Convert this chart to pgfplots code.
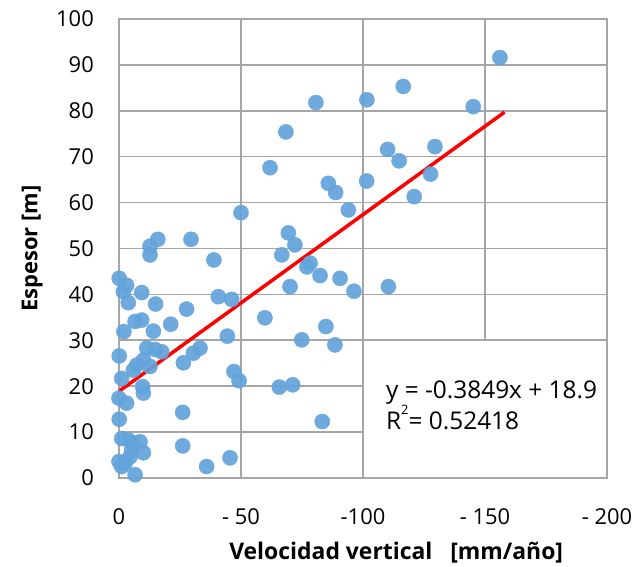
\documentclass[border=0pt]{standalone}
\usepackage{fontspec}
\setmainfont{Open Sans}
\usepackage{pgfplots}
\pgfplotsset{compat=1.18}
\definecolor{gridgray}{RGB}{166,166,166}
\definecolor{ptblue}{RGB}{98,163,219}
\begin{document}
\begin{tikzpicture}
\begin{axis}[
  scale only axis, width=488bp, height=459bp,
  x dir=reverse, xmin=-200, xmax=0, ymin=0, ymax=100,
  xtick={0,-50,-100,-150,-200}, xticklabels={0,- 50,-100,- 150,- 200},
  ytick={0,10,...,100}, yticklabels={0,10,20,30,40,50,60,70,80,90,100},
  grid=major, grid style={gridgray, line width=1.6bp},
  axis line style={gridgray, line width=1.6bp},
  major tick length=0pt,
  tick label style={font=\fontsize{22}{26}\selectfont},
  yticklabel style={anchor=east, inner sep=0pt, xshift=-25bp},
  xticklabel style={anchor=north, inner sep=0pt, yshift=-30bp},
  xlabel={\textbf{Velocidad vertical\ \ \ [mm/año]}},
  ylabel={\textbf{Espesor [m]}},
  xlabel style={at={(axis description cs:0.568,0)}, anchor=base, yshift=-81bp, font=\fontsize{23}{26}\selectfont},
  ylabel style={at={(axis description cs:-0.178,0.5)}, anchor=center, font=\fontsize{22}{26}\selectfont},
  clip=false,
]
\coordinate (ll) at (axis cs:0,0);
\draw[fill=white, draw=gridgray, line width=1.6bp] (axis cs:-100,0) rectangle (axis cs:-200,30);
\addplot[only marks, mark=*, color=ptblue, mark size=7.6pt, mark options={draw=ptblue, fill=ptblue, opacity=0.92}] coordinates {
(-80.7,81.8) (-101.6,82.4) (-68.4,75.4) (-61.9,67.6) (-85.8,64.2) (-88.8,62.2)
(-101.5,64.7) (-94.0,58.4) (-50.0,57.8) (-15.9,52.0) (-12.7,50.5) (-29.5,52.0)
(-69.4,53.4) (-72.1,50.8) (-156.1,91.6) (-116.5,85.3) (-145.2,80.9) (-110.1,71.6)
(-114.8,69.1) (-129.5,72.2) (-127.7,66.2) (-121.0,61.3) (-12.7,48.6) (-66.7,48.6)
(-38.9,47.5) (-78.3,46.8) (-77.0,46.0) (-82.4,44.1) (-90.6,43.5) (-96.3,40.7)
(-70.1,41.7) (-110.4,41.7) (-0.1,43.5) (-3.1,42.0) (-1.8,40.6) (-9.3,40.4)
(-3.8,38.2) (-15.0,37.9) (-40.7,39.5) (-46.2,38.9) (-27.7,36.8) (-59.8,34.9)
(-84.8,33.0) (-74.9,30.1) (-88.5,29.0) (-44.4,30.9) (-6.6,34.1) (-9.3,34.4)
(-2.0,31.9) (-14.1,32.0) (-21.2,33.5) (-0.1,26.6) (-11.4,28.3) (-14.8,28.0)
(-17.5,27.5) (-33.2,28.3) (-30.5,27.2) (-26.4,25.1) (-7.3,24.6) (-10.0,25.7)
(-5.9,23.5) (-12.7,24.3) (-1.1,21.7) (-47.1,23.2) (-49.2,21.2) (-65.7,19.8)
(-71.2,20.3) (-9.7,19.9) (-10.0,18.5) (0,17.4) (-3.1,16.3) (-0.1,12.8)
(-26.1,14.3) (-83.3,12.3) (-1.1,8.6) (-3.8,8.3) (-5.9,7.6) (-8.6,7.9)
(-5.2,6.1) (-10.0,5.5) (-26.1,7.0) (0,3.6) (-2.5,3.2) (-1.1,2.5)
(-6.6,0.7) (-35.9,2.5) (-45.5,4.4) (-4.5,4.6)
};
\addplot[red, line width=3.5bp] coordinates {(0,18.9) (-158,79.7)};
\node[anchor=base west, inner sep=0pt, font=\fontsize{24.5}{28}\selectfont] at (axis cs:-109.4,17.4) {y = -0.3849x + 18.9};
\node[anchor=base west, inner sep=0pt, font=\fontsize{24.5}{28}\selectfont] at (axis cs:-109.4,10.5) {R\raisebox{0.62em}{\fontsize{13}{14}\selectfont 2}= 0.52418};
\end{axis}
\pgfresetboundingbox
\path ([shift={(-119bp,-89bp)}]ll) rectangle ++(641bp,567bp);
\end{tikzpicture}
\end{document}
